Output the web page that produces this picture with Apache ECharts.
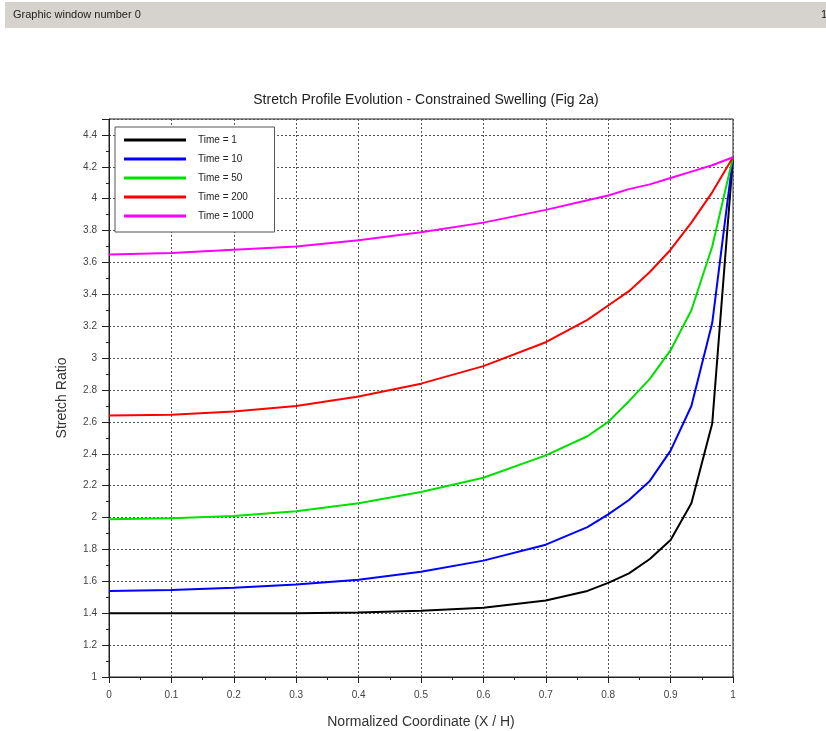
<!DOCTYPE html>
<html><head><meta charset="utf-8">
<script src="https://cdn.jsdelivr.net/npm/echarts@6/dist/echarts.min.js"></script>
<style>html,body{margin:0;padding:0;background:#fff}#c{width:826px;height:731px}</style>
</head><body><div id="c"></div>
<script>
var xs = [0, 0.1, 0.2, 0.3, 0.4, 0.5, 0.6, 0.7, 0.7667, 0.8, 0.8333, 0.8667, 0.9, 0.9333, 0.9667, 1];
var seriesNames = ['Time = 1', 'Time = 10', 'Time = 50', 'Time = 200', 'Time = 1000'];
var t1    = [1.40, 1.40, 1.40, 1.40, 1.405, 1.415, 1.435, 1.48, 1.54, 1.59, 1.65, 1.74, 1.86, 2.09, 2.59, 4.26];
var t10   = [1.54, 1.545, 1.56, 1.58, 1.61, 1.66, 1.73, 1.83, 1.94, 2.02, 2.11, 2.23, 2.42, 2.70, 3.22, 4.26];
var t50   = [1.99, 1.995, 2.01, 2.04, 2.09, 2.16, 2.25, 2.39, 2.51, 2.60, 2.73, 2.87, 3.05, 3.30, 3.70, 4.26];
var t200  = [2.64, 2.645, 2.665, 2.70, 2.76, 2.84, 2.95, 3.10, 3.24, 3.33, 3.42, 3.54, 3.68, 3.85, 4.04, 4.26];
var t1000 = [3.65, 3.66, 3.68, 3.70, 3.74, 3.79, 3.85, 3.93, 3.99, 4.02, 4.06, 4.09, 4.13, 4.17, 4.21, 4.26];
var colors = ['#000000', '#0000ff', '#00e000', '#ff0000', '#ff00ff'];
var allY = [t1, t10, t50, t200, t1000];

function pairs(ys){ return xs.map(function(x,i){ return [x, ys[i]]; }); }

var chart = echarts.init(document.getElementById('c'), null, {renderer:'canvas'});
var font = 'Liberation Sans, Arial, sans-serif';
chart.setOption({
  animation: false,
  backgroundColor: '#ffffff',
  textStyle: {fontFamily: font},
  title: {
    text: 'Stretch Profile Evolution - Constrained Swelling (Fig 2a)',
    left: 421, top: 88, textAlign: 'center',
    textStyle: {fontSize: 14, fontWeight: 'normal', color: '#222', fontFamily: font}
  },
  graphic: [
    {type: 'rect', shape: {x: 5, y: 2, width: 821, height: 26}, style: {fill: '#d6d3ce'}, silent: true},
    {type: 'text', left: 13, top: 9, style: {text: 'Graphic window number 0', fontSize: 11, fill: '#222', fontFamily: font}},
    {type: 'text', left: 821, top: 9, style: {text: '1', fontSize: 11, fill: '#222', fontFamily: font}}
  ],
  legend: {
    left: 115, top: 127, orient: 'vertical',
    backgroundColor: '#fff', borderColor: '#555', borderWidth: 1, borderRadius: 0,
    padding: [8, 21, 11, 9],
    itemWidth: 62, itemHeight: 3, itemGap: 9,
    icon: 'rect',
    textStyle: {fontSize: 10, color: '#222', padding: [0, 0, 0, 7], fontFamily: font},
    data: seriesNames
  },
  grid: {left: 109, right: 93, top: 119, bottom: 54, show: true, borderColor: '#222', borderWidth: 1,
    backgroundColor: 'transparent', containLabel: false, outerBoundsMode: 'none'},
  xAxis: {
    type: 'value', min: 0, max: 1, interval: 0.1,
    name: 'Normalized Coordinate (X / H)', nameLocation: 'middle', nameGap: 38,
    nameTextStyle: {fontSize: 14, color: '#333', fontFamily: font},
    axisLine: {show: true, lineStyle: {color: '#222'}},
    axisTick: {show: true, inside: false, length: 6, lineStyle: {color: '#222'}},
    minorTick: {show: true, splitNumber: 2, length: 3, lineStyle: {color: '#222'}},
    axisLabel: {fontSize: 10, color: '#444', margin: 13, fontFamily: font},
    splitLine: {show: true, lineStyle: {color: '#555', type: [2, 2], width: 1}}
  },
  yAxis: {
    type: 'value', min: 1, max: 4.5, interval: 0.2,
    name: 'Stretch Ratio', nameLocation: 'middle', nameGap: 40, nameRotate: 90,
    nameTextStyle: {fontSize: 14, color: '#333', fontFamily: font},
    axisLine: {show: true, lineStyle: {color: '#222'}},
    axisTick: {show: true, inside: false, length: 7, lineStyle: {color: '#222'}},
    minorTick: {show: true, splitNumber: 2, length: 3, lineStyle: {color: '#222'}},
    axisLabel: {fontSize: 10, color: '#444', margin: 12, showMaxLabel: false, fontFamily: font,
      formatter: function(v){ return v > 4.45 ? '' : String(Math.round(v*10)/10); }},
    splitLine: {show: true, lineStyle: {color: '#555', type: [2, 2], width: 1}}
  },
  series: seriesNames.map(function(n, i){
    return {
      name: n, type: 'line', data: pairs(allY[i]), symbol: 'none', showSymbol: false,
      lineStyle: {color: colors[i], width: 2}, itemStyle: {color: colors[i]}, smooth: false, z: 3
    };
  })
});
</script></body></html>
